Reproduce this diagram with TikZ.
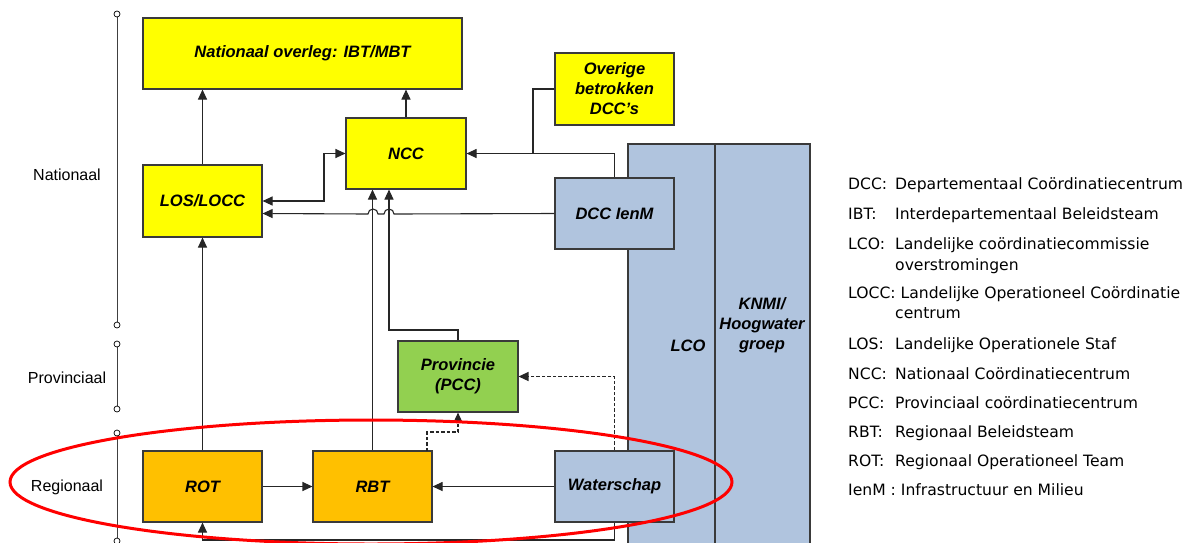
\documentclass[tikz,border=0pt]{standalone}
\usepackage{fontspec}
\setmainfont{Liberation Sans}
\newfontfamily\legfont{DejaVu Sans}
\usetikzlibrary{arrows.meta}
\definecolor{yel}{HTML}{FFFF00}
\definecolor{ora}{HTML}{FFC000}
\definecolor{gre}{HTML}{92D050}
\definecolor{blu}{HTML}{B0C4DE}
\definecolor{edge}{HTML}{3A3A3A}
\begin{document}
\begin{tikzpicture}[x=1pt,y=-1pt,
 box/.style={draw=edge,line width=1.1pt,inner sep=0pt,align=center,font=\fontsize{16.5}{20}\selectfont\bfseries\itshape},
 bandrect/.style={draw=edge,line width=1.1pt,fill=blu},
 conn/.style={draw=black!85,line width=1.1pt},
 arr/.style={conn,-{Triangle[length=10pt,width=9pt]}},
 darr/.style={arr,dash pattern=on 3.5pt off 2pt,line width=1.3pt},
 biarr/.style={conn,{Triangle[length=10pt,width=9pt]}-{Triangle[length=10pt,width=9pt]}},
 lvl/.style={font=\fontsize{16}{19}\selectfont},
 bandlabel/.style={align=center,font=\fontsize{16.5}{20}\selectfont\bfseries\itshape},
 leg/.style={anchor=base west,inner sep=0pt,font=\legfont\fontsize{15.6}{18}\selectfont},
 scaleline/.style={draw=black!75,line width=0.9pt},
 dot/.style={circle,draw=black,fill=white,line width=0.7pt,inner sep=0pt,minimum size=6pt}
]
\useasboundingbox (0,0) rectangle (1194,542);

% level scale
\draw[scaleline] (117,14) -- (117,325);
\draw[scaleline] (117,344) -- (117,409);
\draw[scaleline] (117,433) -- (117,541);
\foreach \yy in {14,325,344,409,433,541} \node[dot] at (117,\yy) {};
\node[lvl] (lnat) at (67,175) {Nationaal};
\node[lvl] (lprov) at (67,378) {Provinciaal};
\node[lvl] (lreg) at (67,487) {Regionaal};

% LCO / KNMI bands
\draw[bandrect] (628,144) rectangle (715,562);
\draw[bandrect] (715,144) rectangle (810,562);
\node[bandlabel] (lco) at (688,346) {LCO};
\node[bandlabel] (knmi) at (762,325) {KNMI/\\Hoogwater\\groep};

% boxes
\node[box,fill=yel,minimum width=319pt,minimum height=71pt] (nat) at (302.5,53.5) {Nationaal overleg: IBT/MBT};
\node[box,fill=yel,minimum width=120pt,minimum height=71pt] (ncc) at (406,153.5) {NCC};
\node[box,fill=yel,minimum width=119pt,minimum height=72pt] (los) at (202.5,201) {LOS/LOCC};
\node[box,fill=yel,minimum width=119pt,minimum height=72pt] (ov) at (614.5,89) {Overige\\betrokken\\DCC’s};
\node[box,fill=blu,minimum width=119pt,minimum height=71pt] (dcc) at (614.5,213.5) {DCC IenM};
\node[box,fill=gre,minimum width=120pt,minimum height=71pt] (prov) at (458,376.5) {Provincie\\(PCC)};
\node[box,fill=ora,minimum width=119pt,minimum height=71pt] (rot) at (202.5,486.5) {ROT};
\node[box,fill=ora,minimum width=119pt,minimum height=71pt] (rbt) at (372.5,486.5) {RBT};
\node[box,fill=blu,minimum width=119pt,minimum height=71pt] (ws) at (614.5,486.5) {Waterschap};

% connectors
\draw[arr] (los.north) -- (los.north |- nat.south);
\draw[arr] (ncc.north) -- (ncc.north |- nat.south);
\draw[biarr] (los.east) -- (324,201) |- (ncc.west);
\draw[arr] (dcc.north) |- (ncc.east);
\draw[conn] (ov.west) -| (533,153.5);
\draw[arr] (dcc.west) -- (394,214) arc[start angle=0,end angle=-180,radius=5] -- (378,214) arc[start angle=0,end angle=-180,radius=5] -- (los.east |- dcc.west);
\draw[arr] (rbt.north) -- (rbt.north |- ncc.south);
\coordinate (pbend) at (389,330);
\draw[arr] (prov.north) |- (pbend) -- (pbend |- ncc.south);
\draw[arr] (rot.north) -- (los.south);
\draw[arr] (rot.east) -- (rbt.west);
\draw[arr] (ws.west) -- (rbt.east);
\coordinate (rbtq) at (427,451);
\draw[darr] (rbtq) |- (458,432) -- (prov.south);
\draw[darr] (ws.north) |- (prov.east);
\draw[arr] (ws.south) -- (614.5,540) -| (rot.south);

% red ellipse
\draw[red,line width=3pt] (371,482) ellipse [x radius=361, y radius=62];

% legend
\node[leg] (k1) at (848,189) {DCC:};
\node[leg] (d1) at (895,189) {Departementaal Coördinatiecentrum};
\node[leg] (k2) at (848,219) {IBT:};
\node[leg] (d2) at (895,219) {Interdepartementaal Beleidsteam};
\node[leg] (k3) at (848,249) {LCO:};
\node[leg] (d3) at (895,249) {Landelijke coördinatiecommissie};
\node[leg] (d3b) at (895,270) {overstromingen};
\node[leg] (k4) at (848,298) {LOCC: Landelijke Operationeel Coördinatie};
\node[leg] (d4b) at (895,318) {centrum};
\node[leg] (k5) at (848,349) {LOS:};
\node[leg] (d5) at (895,349) {Landelijke Operationele Staf};
\node[leg] (k6) at (848,379) {NCC:};
\node[leg] (d6) at (895,379) {Nationaal Coördinatiecentrum};
\node[leg] (k7) at (848,408) {PCC:};
\node[leg] (d7) at (895,408) {Provinciaal coördinatiecentrum};
\node[leg] (k8) at (848,437) {RBT:};
\node[leg] (d8) at (895,437) {Regionaal Beleidsteam};
\node[leg] (k9) at (848,466) {ROT:};
\node[leg] (d9) at (895,466) {Regionaal Operationeel Team};
\node[leg] (k10) at (848,495) {IenM : Infrastructuur en Milieu};
\end{tikzpicture}
\end{document}
